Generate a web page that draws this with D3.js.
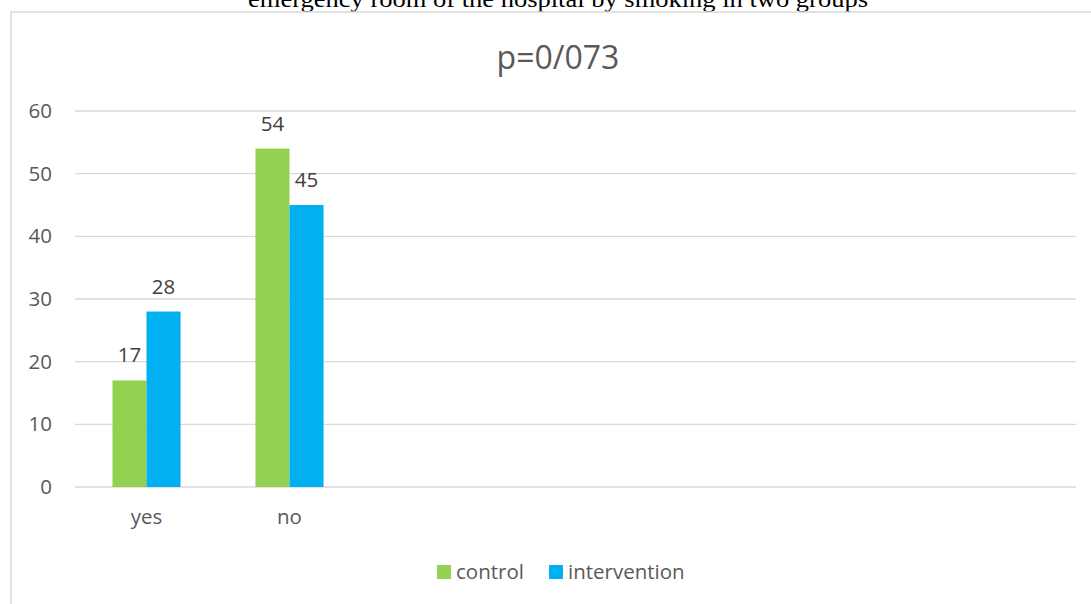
<!DOCTYPE html>
<html><head><meta charset="utf-8">
<script src="https://cdn.jsdelivr.net/npm/d3@7"></script>
<style>body{margin:0;background:#fff}svg{display:block}</style>
</head><body>
<script>
const categories = ["yes", "no"];
const slotCount = 7;
const seriesNames = ["control", "intervention"];
const controlValues = [17, 54];
const interventionValues = [28, 45];
const yTicks = [0, 10, 20, 30, 40, 50, 60];
const chartTitle = "p=0/073";
const pageTitle = "emergency room of the hospital by smoking in two groups";
const colors = ["#92d050", "#00b0f0"];

(function () {
const W = 1091, H = 604;
const svg = d3.select("body").append("svg").attr("width", W).attr("height", H);
const font = "'Open Sans', sans-serif";
const fs = 20.5;

// page title (cut off at top)
svg.append("text").attr("x", 558).attr("y", 7).attr("text-anchor", "middle")
  .attr("font-family", "'Liberation Serif', 'Times New Roman', serif").attr("font-size", 23)
  .attr("textLength", 620).attr("lengthAdjust", "spacingAndGlyphs")
  .attr("fill", "#000").text(pageTitle);

// chart border
svg.append("rect").attr("x", 11).attr("y", 12).attr("width", W + 10).attr("height", H + 10)
  .attr("fill", "none").attr("stroke", "#d9d9d9").attr("stroke-width", 1.5);

const pl = 75, pr = 1076, pt = 111, pb = 487;
const x = d3.scaleBand().domain(d3.range(slotCount)).range([pl, pr]).padding(0);
const y = d3.scaleLinear().domain([0, 60]).range([pb, pt]);

// gridlines
svg.append("g").selectAll("line").data(yTicks).join("line")
  .attr("x1", pl).attr("x2", pr).attr("y1", d => y(d)).attr("y2", d => y(d))
  .attr("stroke", "#d9d9d9").attr("stroke-width", 1.3);

// y axis labels
const yAxis = d3.axisLeft(y).tickValues(yTicks).tickSize(0).tickPadding(0);
const gy = svg.append("g").attr("transform", `translate(52,0)`).call(yAxis);
gy.select(".domain").remove();
gy.selectAll("text").attr("font-family", font).attr("font-size", fs).attr("fill", "#595959");

// x axis labels
const xAxis = d3.axisBottom(x).tickSize(0).tickPadding(0).tickFormat(i => categories[i] || "");
const gx = svg.append("g").attr("transform", `translate(0,509)`).call(xAxis);
gx.select(".domain").remove();
gx.selectAll("text").attr("font-family", font).attr("font-size", fs).attr("fill", "#595959");

const groupW = x.bandwidth() * 0.476;
const xs = d3.scaleBand().domain(seriesNames).range([0, groupW]).padding(0);
const seriesData = [controlValues, interventionValues];

seriesNames.forEach((name, s) => {
  const g = svg.append("g");
  const vals = seriesData[s].map((v, i) => ({i, v}));
  g.selectAll("rect").data(vals).join("rect")
    .attr("x", d => x(d.i) + (x.bandwidth() - groupW) / 2 + xs(name))
    .attr("width", xs.bandwidth())
    .attr("y", d => y(d.v)).attr("height", d => y(0) - y(d.v))
    .attr("fill", colors[s]);
  g.selectAll("text").data(vals).join("text")
    .attr("x", d => x(d.i) + (x.bandwidth() - groupW) / 2 + xs(name) + xs.bandwidth() / 2)
    .attr("y", d => y(d.v) - 18)
    .attr("text-anchor", "middle")
    .attr("font-family", font).attr("font-size", fs).attr("fill", "#404040")
    .text(d => d.v);
});

// chart title
svg.append("text").attr("x", 558).attr("y", 69).attr("text-anchor", "middle")
  .attr("font-family", font).attr("font-size", 32).attr("fill", "#595959").text(chartTitle);

// legend
const legend = [{x: 437, tx: 456}, {x: 549, tx: 568}];
seriesNames.forEach((name, s) => {
  svg.append("rect").attr("x", legend[s].x).attr("y", 565).attr("width", 14).attr("height", 14)
    .attr("fill", colors[s]);
  svg.append("text").attr("x", legend[s].tx).attr("y", 579)
    .attr("font-family", font).attr("font-size", fs).attr("fill", "#595959").text(name);
});
})();
</script>
</body></html>
